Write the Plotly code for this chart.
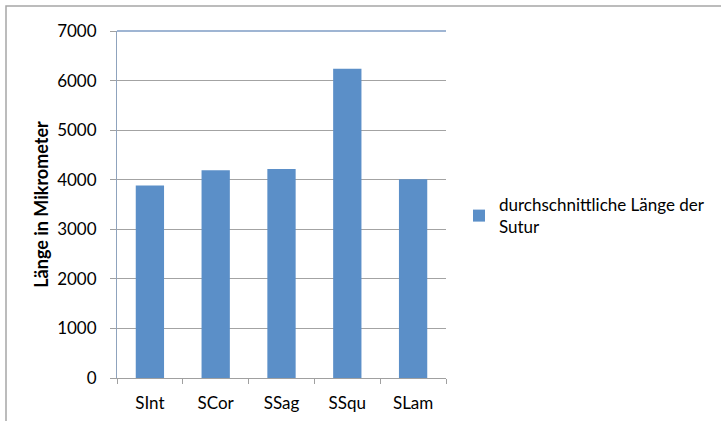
import plotly.graph_objects as go

# Durchschnittliche Suturlänge je Sutur (µm)
categories = ["SInt", "SCor", "SSag", "SSqu", "SLam"]
lengths = [3885, 4190, 4215, 6240, 4010]
y_ticks = [0, 1000, 2000, 3000, 4000, 5000, 6000, 7000]
series_name = "durchschnittliche Länge der<br>Sutur"

W, H = 721, 421
L, R, T, B = 117, 446, 31, 378  # plot area in pixels

def px(x):
    return (x - L) / (R - L)

def py(y):
    return (B - y) / (B - T)

font = "Lato, Carlito, Calibri, sans-serif"
bar_color = "#5B8FC8"
fs = 17

fig = go.Figure()
fig.add_trace(go.Bar(
    x=categories, y=lengths, name=series_name,
    marker=dict(color=bar_color, line=dict(width=0)),
    width=0.43, showlegend=True,
))

fig.update_layout(
    width=W, height=H,
    margin=dict(l=L, r=W - R, t=T, b=H - B, pad=0, autoexpand=False),
    paper_bgcolor="white", plot_bgcolor="white",
    font=dict(family=font, size=fs, color="black"),
    showlegend=True,
    legend=dict(
        x=px(459), y=py(187), xanchor="left", yanchor="top",
        font=dict(family=font, size=fs, color="black"),
        bgcolor="rgba(0,0,0,0)", itemwidth=30, tracegroupgap=0,
    ),
    xaxis=dict(
        showgrid=False, showline=True, linecolor="#A0A0A0", linewidth=1,
        ticks="outside", ticklen=5, tickcolor="#A0A0A0", tickson="boundaries",
        tickfont=dict(family=font, size=fs, color="black"),
        ticklabelstandoff=10, automargin=False,
        range=[-0.5, 4.5], fixedrange=True,
    ),
    yaxis=dict(
        range=[0, 7000], tickvals=y_ticks,
        showgrid=True, gridcolor="#A3A3A3", gridwidth=1,
        showline=True, linecolor="#8FA3BD", linewidth=1,
        ticks="outside", ticklen=6, tickcolor="#A0A0A0",
        tickfont=dict(family=font, size=fs, color="black"),
        ticklabelstandoff=10, automargin=False,
        title=dict(text="<b>Länge in Mikrometer</b>",
                   font=dict(family=font, size=18, color="black"), standoff=3),
        zeroline=False, fixedrange=True,
    ),
    shapes=[
        # outer chart frame
        dict(type="rect", xref="paper", yref="paper",
             x0=px(6), x1=px(740), y0=py(440), y1=py(6),
             line=dict(color="#A6A6A6", width=1.5), fillcolor="rgba(0,0,0,0)", layer="below"),
        # top border of plot area
        dict(type="line", xref="paper", yref="paper",
             x0=0, x1=1, y0=1, y1=1,
             line=dict(color="#7F9CC4", width=1.5)),
    ],
)

fig.write_html("out.html")
